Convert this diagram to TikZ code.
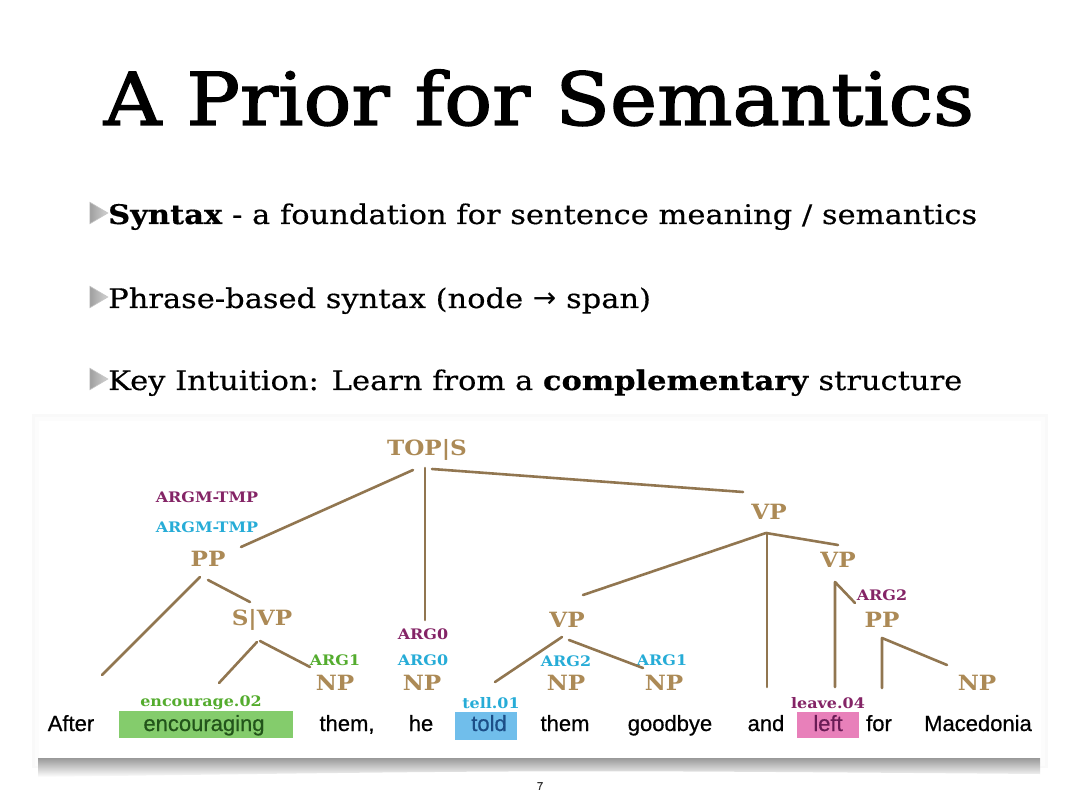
\documentclass[tikz,border=0pt]{standalone}
\usepackage{fontspec}
\usetikzlibrary{calc,shapes.geometric}
\setmainfont{DejaVu Serif}
\newfontfamily\titlefont{DejaVu Serif}[FakeStretch=1.09,FakeBold=2]
\newfontfamily\bodyfont{DejaVu Serif}[FakeStretch=1.13,FakeBold=0.4]
\newfontfamily\labfont{DejaVu Serif}[FakeStretch=1.1]
\newfontfamily\wordfont{Liberation Sans}[FakeBold=0.6]
\newfontfamily\symfont{DejaVu Sans}
\definecolor{labtan}{RGB}{172,138,86}
\definecolor{edgebrown}{RGB}{145,118,80}
\definecolor{argpurple}{RGB}{132,36,102}
\definecolor{argcyan}{RGB}{38,172,215}
\definecolor{arggreen}{RGB}{84,172,46}
\definecolor{boxgreen}{RGB}{132,204,108}
\definecolor{boxblue}{RGB}{112,190,235}
\definecolor{boxpink}{RGB}{232,128,186}
\tikzset{
  bul/.style={isosceles triangle, isosceles triangle apex angle=62, minimum height=18pt, inner sep=0pt,
    left color=gray!75, right color=gray!35, draw=gray!45, line width=0.6pt},
  bodytext/.style={anchor=base west, font=\bodyfont\fontsize{27}{30}\selectfont, inner sep=0pt},
  lab/.style={font=\labfont\bfseries\fontsize{21}{24}\selectfont, text=labtan, inner sep=1pt},
  sml/.style={font=\labfont\bfseries\fontsize{14.5}{16}\selectfont, inner sep=1pt},
  word/.style={font=\wordfont\fontsize{22}{26}\selectfont, inner sep=0pt, anchor=base},
  edge/.style={draw=edgebrown, line width=2.6pt, line cap=round, line join=round},
}
\begin{document}
\begin{tikzpicture}[x=1pt,y=-1pt]
\useasboundingbox (0,0) rectangle (1080,810);
\fill[white] (0,0) rectangle (1080,810);

% title
\node[anchor=base, font=\titlefont\fontsize{73}{80}\selectfont, inner sep=0pt] (title) at (539,125) {A Prior for Semantics};

% bullets
\node[bul] (t1) at (96,213) {};
\node[bul] (t2) at (96,297) {};
\node[bul] (t3) at (96,379) {};
\node[bodytext] (l1) at (108,224) {\textbf{Syntax} - a foundation for sentence meaning / semantics};
\node[bodytext] (l2) at (108,308) {Phrase-based syntax (node {\symfont\fontsize{28}{30}\selectfont →} span)};
\node[bodytext] (l3) at (108,390) {Key Intuition: Learn from a \textbf{complementary} structure};

% panel
\fill[gray!5] (32,414) rectangle (1048,768);
\fill[gray!2] (35,417) rectangle (1045,766);
\fill[white] (39,421) rectangle (1041,762);
\shade[top color=gray!80, bottom color=white] (38,758) -- (1040,758) -- (1040,774) .. controls (540,770) .. (38,777) -- cycle;

% highlight boxes
\fill[boxgreen] (119,711) rectangle (293,738);
\fill[boxblue] (455,712) rectangle (517,740);
\fill[boxpink] (797,712) rectangle (859,738);

% words
\node[word] (after) at (71,731) {After};
\node[word, text={rgb,255:red,34;green,84;blue,26}] (encouraging) at (204,731) {encouraging};
\node[word] (them1) at (347,731) {them,};
\node[word] (he) at (421,731) {he};
\node[word, text={rgb,255:red,28;green,78;blue,135}] (told) at (489,731) {told};
\node[word] (them2) at (565,731) {them};
\node[word] (goodbye) at (670,731) {goodbye};
\node[word] (and) at (766,731) {and};
\node[word, text={rgb,255:red,105;green,28;blue,85}] (left) at (828,731) {left};
\node[word] (for) at (879,731) {for};
\node[word] (macedonia) at (978,731) {Macedonia};

% tree labels
\node[lab] (topS) at (427,450) {TOP|S};
\node[sml, text=argpurple] (argmP) at (207,497) {ARGM-TMP};
\node[sml, text=argcyan] (argmC) at (207,527) {ARGM-TMP};
\node[lab] (pp) at (208,559) {PP};
\node[lab] (svp) at (262,620) {S|VP};
\node[sml, text=arggreen] (arg1g) at (335,660) {ARG1};
\node[lab] (np1) at (335,683) {NP};
\node[sml, text=argpurple] (arg0p) at (423,634) {ARG0};
\node[sml, text=argcyan] (arg0c) at (423,660) {ARG0};
\node[lab] (np2) at (422,683) {NP};
\node[lab] (vp1) at (769,512) {VP};
\node[lab] (vp2) at (838,560) {VP};
\node[sml, text=argpurple] (arg2p) at (882,595) {ARG2};
\node[lab] (pp2) at (882,620) {PP};
\node[lab] (vpm) at (567,620) {VP};
\node[sml, text=argcyan] (arg2c) at (566,661) {ARG2};
\node[lab] (np3) at (566,683) {NP};
\node[sml, text=argcyan] (arg1c) at (662,660) {ARG1};
\node[lab] (np4) at (664,683) {NP};
\node[lab] (np5) at (977,683) {NP};
\node[sml, text=arggreen] (enc) at (201,703) {encourage.02};
\node[sml, text=argcyan] (tell) at (491,703) {tell.01};
\node[sml, text=argpurple] (leave) at (828,703) {leave.04};

% edges
\draw[edge] ($(topS)+(-14,20)$) -- ($(pp)+(33,-12)$);
\draw[edge] ($(topS)+(-2,18)$) -- ($(arg0p)+(2,-14)$);
\draw[edge] ($(topS)+(5,19)$) -- ($(vp1)+(-26,-20)$);
\draw[edge] ($(pp)+(-8,18)$) -- ($(after.base)+(31,-56)$);
\draw[edge] ($(pp)+(0,21)$) -- ($(svp)+(-12,-18)$);
\draw[edge] ($(svp)+(-5,22)$) -- ($(enc)+(18,-20)$);
\draw[edge] ($(svp)+(-2,21)$) -- ($(arg1g)+(-25,7)$);
\draw[edge] ($(vp1)+(-3,21)$) -- ($(vpm)+(16,-25)$);
\draw[edge] ($(vp1)+(-2,21)$) -- ($(and.base)+(1,-44)$);
\draw[edge] ($(vp1)+(-3,21)$) -- ($(vp2)+(0,-15)$);
\draw[edge] ($(arg2p)+(-27,8)$) -- ($(vp2)+(-3,22)$) -- ($(left.base)+(7,-44)$);
\draw[edge] ($(np5)+(-30,-18)$) -- ($(pp2)+(0,18)$) -- ($(for.base)+(3,-43)$);
\draw[edge] ($(vpm)+(-5,17)$) -- ($(tell)+(4,-21)$);
\draw[edge] ($(vpm)+(2,20)$) -- ($(arg1c)+(-19,8)$);

% page number
\node[font=\wordfont\fontsize{11}{12}\selectfont, text=black!80] (pg) at (540,786) {7};
\end{tikzpicture}
\end{document}
